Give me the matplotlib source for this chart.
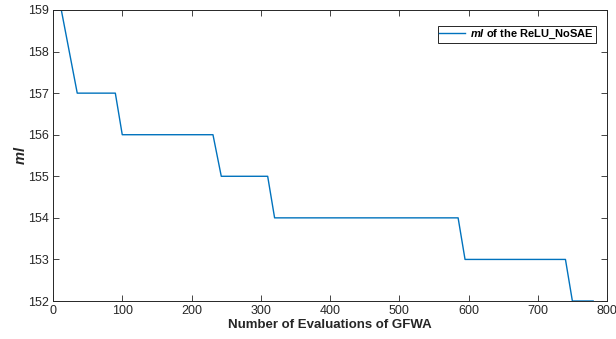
import matplotlib
matplotlib.use("Agg")
import matplotlib.pyplot as plt

plt.rcParams['font.family'] = ['Liberation Sans', 'DejaVu Sans']
plt.rcParams['mathtext.fontset'] = 'custom'
plt.rcParams['mathtext.rm'] = 'Liberation Sans'
plt.rcParams['mathtext.bf'] = 'Liberation Sans:bold'
plt.rcParams['mathtext.it'] = 'Liberation Sans:italic'
plt.rcParams['mathtext.bfit'] = 'Liberation Sans:bold:italic'

evaluations = [0, 12, 35, 90, 100, 231, 243, 310, 320, 585, 595, 740, 750, 780]
ml_values = [159, 159, 157, 157, 156, 156, 155, 155, 154, 154, 153, 153, 152, 152]
x_ticks = [0, 100, 200, 300, 400, 500, 600, 700, 800]
y_ticks = [152, 153, 154, 155, 156, 157, 158, 159]

fig = plt.figure(figsize=(6.16, 3.39), dpi=100)
ax = fig.add_axes([53/616, 1-301/339, (607-53)/616, (301-10)/339])
ax.plot(evaluations, ml_values, color='#0072BD', lw=1.0,
        label=r'$\mathbfit{ml}$ of the ReLU_NoSAE')
ax.set_xlim(0, 800)
ax.set_ylim(152, 159)
ax.set_xticks(x_ticks)
ax.set_yticks(y_ticks)
ax.tick_params(direction='in', top=True, right=True, labelsize=9,
               colors='#262626', length=4, width=0.6, pad=3)
for s in ax.spines.values():
    s.set_color('#262626')
    s.set_linewidth(0.7)
ax.set_xlabel('Number of Evaluations of GFWA', fontsize=9.5, fontweight='bold', color='#262626', labelpad=1)
ax.set_ylabel(r'$\mathbfit{ml}$', fontsize=10.5, color='#262626', labelpad=0)
leg = ax.legend(loc='upper right',
                prop={'weight': 'bold', 'size': 8}, fancybox=False,
                edgecolor='#262626', framealpha=1, borderpad=0.15,
                handlelength=2.3, handletextpad=0.5, borderaxespad=0)
leg.get_frame().set_linewidth(0.7)
leg.set_bbox_to_anchor((596/616, 1-26/339), transform=fig.transFigure)
fig.savefig('out.png', dpi=100)
